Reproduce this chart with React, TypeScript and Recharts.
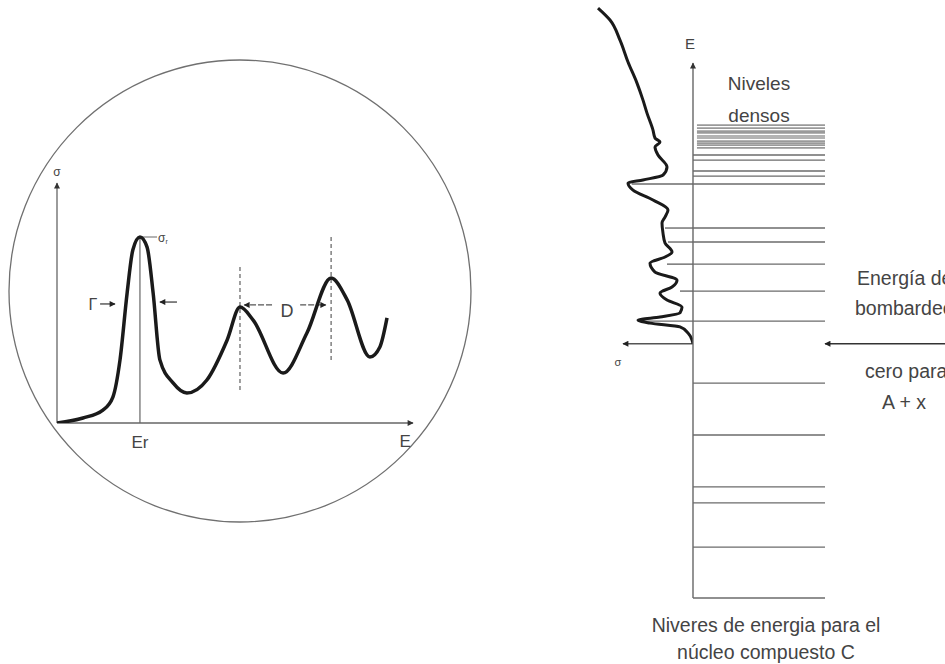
import React from "react";
import { ComposedChart, Line, Scatter, XAxis, YAxis, ReferenceLine, ReferenceDot } from "recharts";

const FONT = "'Liberation Sans', Arial, Helvetica, sans-serif";

// Left panel: resonance cross-section sigma(E), arbitrary units
const resonanceE = [0, 0.73, 1.29, 1.57, 1.77, 1.97, 2.13, 2.33, 2.53, 2.7, 2.89, 3.26, 3.65, 4.21, 4.78, 5.14, 5.51, 6.35, 7.02, 7.7, 8.15, 8.79, 9.07, 9.27];
const resonanceSigma = [0, 0.21, 0.54, 1.08, 2.63, 5.42, 7.21, 7.75, 7.33, 5.42, 2.63, 1.67, 1.25, 1.79, 3.46, 4.83, 4.29, 2.08, 3.75, 6.04, 5.13, 2.75, 3.17, 4.38];
const peakEr = 2.33;
const peakSigmaR = 7.75;
const peakMarks = [5.14, 7.7]; // dashed lines marking the spacing D

// Right panel: compound nucleus levels (E) and the sigma curve turned on its side
const compoundE = [13.2, 12.73, 11.94, 11.08, 10.25, 9.58, 9.07, 8.4, 8.09, 7.93, 7.74, 7.42, 6.95, 6.63, 6.44, 6.32, 6.04, 5.65, 5.26, 4.98, 4.75, 4.35, 3.96, 3.61, 3.41, 3.17, 2.82, 2.5, 2.23, 1.99, 1.72, 1.44, 1.21, 1.05, 0.93, 0.81, 0.66, 0.42, 0.15, 0];
const compoundSigma = [3.8, 3.32, 2.92, 2.6, 2.24, 2.0, 1.84, 1.6, 1.52, 1.32, 1.52, 1.4, 1.04, 1.2, 2.0, 2.6, 2.4, 1.6, 1.0, 1.12, 1.24, 1.2, 1.12, 0.84, 1.12, 1.72, 1.52, 0.64, 0.84, 1.32, 1.04, 0.44, 0.52, 1.32, 2.2, 1.72, 0.52, 0.2, 0.04, 0];
const boundLevels = [-10, -8.0, -6.26, -5.63, -3.59, -1.55];
const openLevels = [0.89, 2.07, 3.13, 4.0, 4.55, 6.28, 6.59, 6.79, 7.22, 7.42];
const denseLevels = [7.7, 7.81, 7.89, 7.97, 8.09, 8.17, 8.29, 8.36, 8.48, 8.6];
const tailE = [6.28, 4.55, 4.0, 3.13, 2.07, 0.89];
const tailSigma = [2.45, 1.12, 1.0, 1.04, 0.52, 2.2];

const leftCurve = resonanceE.map((E, i) => ({ E, sigma: resonanceSigma[i] }));
const rightCurve = compoundE.map((E, i) => ({ E, sigma: compoundSigma[i] }));
const levelPoints = boundLevels.concat(openLevels, denseLevels).map((E) => ({ x: 0, E }));

const arrow = (color: string, width: number, tip: string, dash?: string) => (p: any) => (
  <line x1={p.x1} y1={p.y1} x2={p.x2} y2={p.y2} stroke={color} strokeWidth={width} strokeDasharray={dash} markerEnd={`url(#${tip})`} />
);

const txt = (t: string, size: number, anchor = "middle", color = "#444") => (p: any) => (
  <text x={p.cx} y={p.cy} fontSize={size} fill={color} textAnchor={anchor} dominantBaseline="central" fontFamily={FONT}>
    {t}
  </text>
);

const sigmaR = (p: any) => (
  <text x={p.cx} y={p.cy} fill="#444" dominantBaseline="central" fontFamily={FONT}>
    <tspan fontSize={12}>σ</tspan>
    <tspan fontSize={7} dy={3}>r</tspan>
  </text>
);

const noDot = () => <g />;

const W = 945;
const H = 664;
const layer: React.CSSProperties = { position: "absolute", left: 0, top: 0 };

export default function App() {
  return (
    <div style={{ position: "absolute", left: 0, top: 0, width: W, height: H, background: "#fff", overflow: "hidden" }}>
      <svg width={0} height={0} style={{ position: "absolute" }}>
        <defs>
          <marker id="tipGray" viewBox="0 0 10 10" refX="9" refY="5" markerWidth="8" markerHeight="6" markerUnits="userSpaceOnUse" orient="auto">
            <path d="M0,0 L10,5 L0,10 z" fill="#333" />
          </marker>
          <marker id="tipDark" viewBox="0 0 10 10" refX="9" refY="5" markerWidth="8" markerHeight="6" markerUnits="userSpaceOnUse" orient="auto">
            <path d="M0,0 L10,5 L0,10 z" fill="#222" />
          </marker>
        </defs>
      </svg>

      {/* left: resonances inside the circle */}
      <div style={layer}>
        <ComposedChart width={W} height={H} data={leftCurve} margin={{ top: 183, left: 57, right: 532, bottom: 241 }}>
          <XAxis type="number" dataKey="E" domain={[0, 10]} allowDataOverflow hide />
          <YAxis type="number" domain={[0, 10]} allowDataOverflow hide />
          <ReferenceDot x={5.14} y={5.5} r={231} fill="none" stroke="#707070" strokeWidth={1.3} ifOverflow="visible" />
          <ReferenceLine segment={[{ x: 0, y: 0 }, { x: 0, y: 10 }]} ifOverflow="visible" shape={arrow("#666", 1.3, "tipGray")} />
          <ReferenceLine segment={[{ x: 0, y: 0 }, { x: 10, y: 0 }]} ifOverflow="visible" shape={arrow("#666", 1.3, "tipGray")} />
          <ReferenceLine segment={[{ x: peakEr, y: 0 }, { x: peakEr, y: peakSigmaR }]} stroke="#666" strokeWidth={1.2} ifOverflow="visible" />
          <ReferenceLine segment={[{ x: peakEr, y: peakSigmaR }, { x: 2.81, y: peakSigmaR }]} stroke="#666" strokeWidth={1} ifOverflow="visible" />
          <ReferenceLine segment={[{ x: peakMarks[0], y: 1.375 }, { x: peakMarks[0], y: 6.5 }]} stroke="#777" strokeWidth={1.4} strokeDasharray="4 3" ifOverflow="visible" />
          <ReferenceLine segment={[{ x: peakMarks[1], y: 2.625 }, { x: peakMarks[1], y: 7.75 }]} stroke="#777" strokeWidth={1.4} strokeDasharray="4 3" ifOverflow="visible" />
          <ReferenceLine segment={[{ x: 1.21, y: 4.96 }, { x: 1.63, y: 4.96 }]} ifOverflow="visible" shape={arrow("#333", 1.2, "tipDark")} />
          <ReferenceLine segment={[{ x: 3.37, y: 5.04 }, { x: 2.89, y: 5.04 }]} ifOverflow="visible" shape={arrow("#333", 1.2, "tipDark")} />
          <ReferenceLine segment={[{ x: 6.04, y: 4.92 }, { x: 5.26, y: 4.92 }]} ifOverflow="visible" shape={arrow("#555", 1.2, "tipDark", "6 2")} />
          <ReferenceLine segment={[{ x: 6.83, y: 4.92 }, { x: 7.55, y: 4.92 }]} ifOverflow="visible" shape={arrow("#555", 1.2, "tipDark", "6 2")} />
          <Line dataKey="sigma" type="monotone" stroke="#1a1a1a" strokeWidth={3.5} dot={false} isAnimationActive={false} />
          <ReferenceDot x={0} y={10.46} r={0} ifOverflow="visible" shape={txt("σ", 12)} />
          <ReferenceDot x={2.84} y={7.71} r={0} ifOverflow="visible" shape={sigmaR} />
          <ReferenceDot x={1.01} y={4.92} r={0} ifOverflow="visible" shape={txt("Γ", 16)} />
          <ReferenceDot x={6.46} y={4.67} r={0} ifOverflow="visible" shape={txt("D", 18)} />
          <ReferenceDot x={peakEr} y={-0.83} r={0} ifOverflow="visible" shape={txt("Er", 17)} />
          <ReferenceDot x={9.78} y={-0.79} r={0} ifOverflow="visible" shape={txt("E", 17)} />
        </ComposedChart>
      </div>

      {/* right: sigma curve on its side */}
      <div style={layer}>
        <ComposedChart width={W} height={H} margin={{ top: 3, left: 593, right: 252, bottom: 66 }}>
          <XAxis type="number" dataKey="sigma" domain={[0, 4]} reversed allowDataOverflow hide />
          <YAxis type="number" dataKey="E" domain={[-10, 13.4]} allowDataOverflow hide />
          <ReferenceLine segment={[{ x: 0, y: 0 }, { x: 2.8, y: 0 }]} ifOverflow="visible" shape={arrow("#555", 1.3, "tipDark")} />
          {tailE.map((E, i) => (
            <ReferenceLine key={`t${i}`} segment={[{ x: 0, y: E }, { x: tailSigma[i], y: E }]} stroke="#6b6b6b" strokeWidth={1.4} ifOverflow="visible" />
          ))}
          <Scatter
            data={rightCurve}
            shape={noDot}
            line={{ stroke: "#1a1a1a", strokeWidth: 3 }}
            lineType="joint"
            lineJointType="monotoneY"
            isAnimationActive={false}
          />
          <ReferenceDot x={3.0} y={-0.7} r={0} ifOverflow="visible" shape={txt("σ", 11)} />
        </ComposedChart>
      </div>

      {/* right: energy levels */}
      <div style={layer}>
        <ComposedChart width={W} height={H} margin={{ top: 3, left: 693, right: 0, bottom: 66 }}>
          <XAxis type="number" dataKey="x" domain={[0, 1.909]} allowDataOverflow hide />
          <YAxis type="number" dataKey="E" domain={[-10, 13.4]} allowDataOverflow hide />
          <Scatter data={levelPoints} shape={noDot} isAnimationActive={false} />
          <ReferenceLine segment={[{ x: 0, y: -10 }, { x: 0, y: 11.04 }]} ifOverflow="visible" shape={arrow("#666", 1.4, "tipGray")} />
          {boundLevels.concat(openLevels).map((E, i) => (
            <ReferenceLine key={`l${i}`} segment={[{ x: 0, y: E }, { x: 1, y: E }]} stroke="#6b6b6b" strokeWidth={1.4} ifOverflow="visible" />
          ))}
          {denseLevels.map((E, i) => (
            <ReferenceLine key={`d${i}`} segment={[{ x: 0.03, y: E }, { x: 1, y: E }]} stroke="#9a9a9a" strokeWidth={1.7} ifOverflow="visible" />
          ))}
          <ReferenceLine segment={[{ x: 1.909, y: 0 }, { x: 1.0, y: 0 }]} ifOverflow="visible" shape={arrow("#333", 1.3, "tipDark")} />
          <ReferenceDot x={-0.023} y={11.82} r={0} ifOverflow="visible" shape={txt("E", 15)} />
          <ReferenceDot x={0.5} y={10.25} r={0} ifOverflow="visible" shape={txt("Niveles", 19)} />
          <ReferenceDot x={0.5} y={8.99} r={0} ifOverflow="visible" shape={txt("densos", 19)} />
          <ReferenceDot x={1.242} y={2.58} r={0} ifOverflow="visible" shape={txt("Energía de", 19.5, "start")} />
          <ReferenceDot x={1.227} y={1.4} r={0} ifOverflow="visible" shape={txt("bombardeo", 19.5, "start")} />
          <ReferenceDot x={1.303} y={-1.07} r={0} ifOverflow="visible" shape={txt("cero para", 19.5, "start")} />
          <ReferenceDot x={1.432} y={-2.29} r={0} ifOverflow="visible" shape={txt("A + x", 19.5, "start")} />
          <ReferenceDot x={0.553} y={-11.06} r={0} ifOverflow="visible" shape={txt("Niveres de energia para el", 19.5)} />
          <ReferenceDot x={0.553} y={-12.12} r={0} ifOverflow="visible" shape={txt("núcleo compuesto C", 19.5)} />
        </ComposedChart>
      </div>
    </div>
  );
}
